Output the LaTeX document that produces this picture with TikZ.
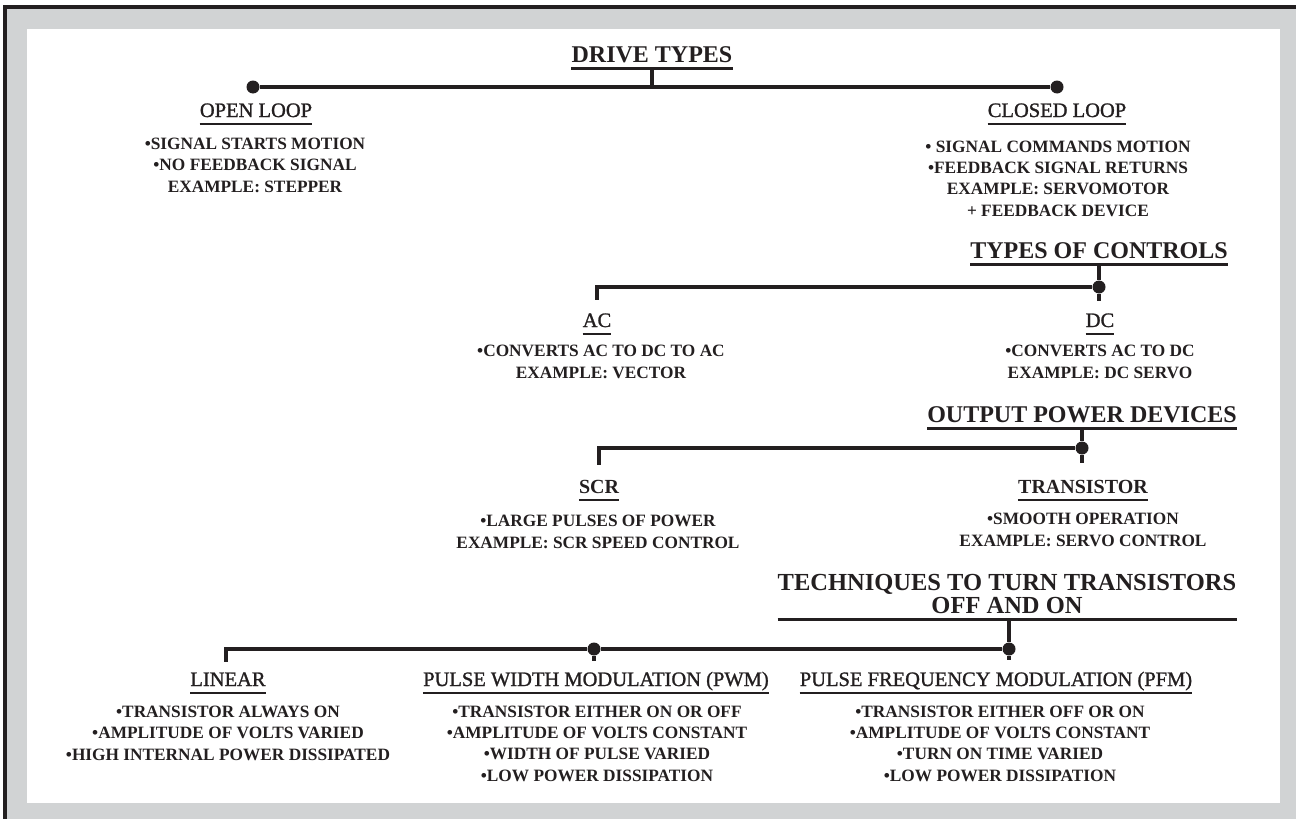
\documentclass[tikz,border=0pt]{standalone}
\usepackage{fontspec}
\setmainfont{Liberation Serif}
\newfontfamily\subfont[FakeBold=1.2]{Liberation Serif}

\definecolor{ink}{HTML}{231F20}
\definecolor{framegray}{HTML}{D1D3D4}

\tikzset{
	headtext/.style={anchor=base, inner xsep=0pt, inner ysep=6pt, text depth=0pt, text=ink, font=\bfseries\fontsize{24}{26}\selectfont},
	subtext/.style={anchor=base, inner xsep=0pt, inner ysep=6.5pt, text depth=0pt, text=ink, font=\subfont\fontsize{20.5}{22}\selectfont},
	bodytext/.style={anchor=base, align=center, inner sep=0pt, text=ink, font=\bfseries\fontsize{17.3}{21.3}\selectfont},
	link/.style={draw=ink, line width=3.4pt},
	hline/.style={draw=ink, line width=3.2pt},
	sline/.style={draw=ink, line width=2.2pt},
	dot/.style={circle, fill=ink, inner sep=0pt, minimum size=13pt},
}

\begin{document}
\begin{tikzpicture}[x=1pt, y=-1pt]
	\def\W{1296};
	\def\H{819};

	% frame
	\begin{scope}
		\useasboundingbox (0,0) rectangle (\W,\H);
		\fill[white] (0,0) rectangle (\W,\H);
		\fill[ink] (3,5) rectangle (\W,\H);
		\fill[framegray] (7,9) rectangle (\W,\H);
		\fill[white] (27,29) rectangle (1280,803);
	\end{scope}

	% drive types
	\node[headtext] (drive) at (652,62) {DRIVE TYPES};
	\node[dot] (openj) at (253,87) {};
	\node[dot] (closedj) at (1057,87) {};
	\draw[link] (openj) -- (closedj);
	\draw[link] (drive.south) -- (drive.south |- openj);

	% multi-line texts sit on the baseline of their last line
	\node[subtext] (open) at (256,117) {OPEN LOOP};
	\node[subtext] (closed) at (1057,117) {CLOSED LOOP};
	\node[bodytext] (openbody) at (255,192) {•SIGNAL STARTS MOTION\\ •NO FEEDBACK SIGNAL\\ EXAMPLE: STEPPER};
	\node[bodytext] (closedbody) at (1058,216) {• SIGNAL COMMANDS MOTION\\ •FEEDBACK SIGNAL RETURNS\\ EXAMPLE: SERVOMOTOR\\ + FEEDBACK DEVICE};

	% types of controls
	\node[headtext] (types) at (1099,258) {TYPES OF CONTROLS};
	\node[dot] (typesj) at (1099,287) {};
	\coordinate (acc) at (597,287);
	\draw[link] (types.south) -- (typesj);
	\draw[link] (typesj) -- ++(0,14);
	\draw[link] (typesj) -- (acc) -- ++(0,13);

	\node[subtext] (ac) at (597,327) {AC};
	\node[subtext] (dc) at (1100,327) {DC};
	\node[bodytext] (acbody) at (601,378) {•CONVERTS AC TO DC TO AC\\ EXAMPLE: VECTOR};
	\node[bodytext] (dcbody) at (1100,378) {•CONVERTS AC TO DC\\ EXAMPLE: DC SERVO};

	% output power devices
	\node[headtext] (output) at (1082,422) {OUTPUT POWER DEVICES};
	\node[dot] (outputj) at (1082,448) {};
	\coordinate (scrc) at (599,448);
	\draw[link] (output.south) -- (outputj);
	\draw[link] (outputj) -- ++(0,15);
	\draw[link] (outputj) -- (scrc) -- ++(0,17);

	\node[subtext, font=\bfseries\fontsize{20}{22}\selectfont] (scr) at (599,493) {SCR};
	\node[subtext, font=\bfseries\fontsize{20}{22}\selectfont] (trans) at (1083,493) {TRANSISTOR};
	\node[bodytext] (scrbody) at (598,548) {•LARGE PULSES OF POWER\\ EXAMPLE: SCR SPEED CONTROL};
	\node[bodytext] (transbody) at (1083,546) {•SMOOTH OPERATION\\ EXAMPLE: SERVO CONTROL};

	% techniques
	\node[headtext, font=\bfseries\fontsize{24.5}{26}\selectfont] (techtop) at (1007,590) {TECHNIQUES TO TURN TRANSISTORS};
	\node[headtext, font=\bfseries\fontsize{24.5}{26}\selectfont] (tech) at (1007,613) {OFF AND ON};
	\node[dot] (techj) at (1009,649) {};
	\node[dot] (pwmj) at (594,649) {};
	\coordinate (linc) at (226,649);
	\draw[link] (tech.south -| techj) -- (techj);
	\draw[link] (techj) -- ++(0,11);
	\draw[link] (techj) -- (pwmj) -- (linc) -- ++(0,13);
	\draw[link] (pwmj) -- ++(0,12);

	\node[subtext] (linear) at (228,686) {LINEAR};
	\node[subtext] (pwm) at (596,686) {PULSE WIDTH MODULATION (PWM)};
	\node[subtext] (pfm) at (996,686) {PULSE FREQUENCY MODULATION (PFM)};
	\node[bodytext] (linearbody) at (228,760) {•TRANSISTOR ALWAYS ON\\ •AMPLITUDE OF VOLTS VARIED\\ •HIGH INTERNAL POWER DISSIPATED};
	\node[bodytext] (pwmbody) at (597,781) {•TRANSISTOR EITHER ON OR OFF\\ •AMPLITUDE OF VOLTS CONSTANT\\ •WIDTH OF PULSE VARIED\\ •LOW POWER DISSIPATION};
	\node[bodytext] (pfmbody) at (1000,781) {•TRANSISTOR EITHER OFF OR ON\\ •AMPLITUDE OF VOLTS CONSTANT\\ •TURN ON TIME VARIED\\ •LOW POWER DISSIPATION};

	% underlines
	\foreach \n in {drive,types,output}
	{
		\draw[hline] (\n.south west) -- (\n.south east);
	}
	\draw[hline] (techtop.west |- tech.south) -- (techtop.east |- tech.south);
	\foreach \n in {open,closed,ac,dc,scr,trans,linear,pwm,pfm}
	{
		\draw[sline] (\n.south west) -- (\n.south east);
	}
\end{tikzpicture}
\end{document}
